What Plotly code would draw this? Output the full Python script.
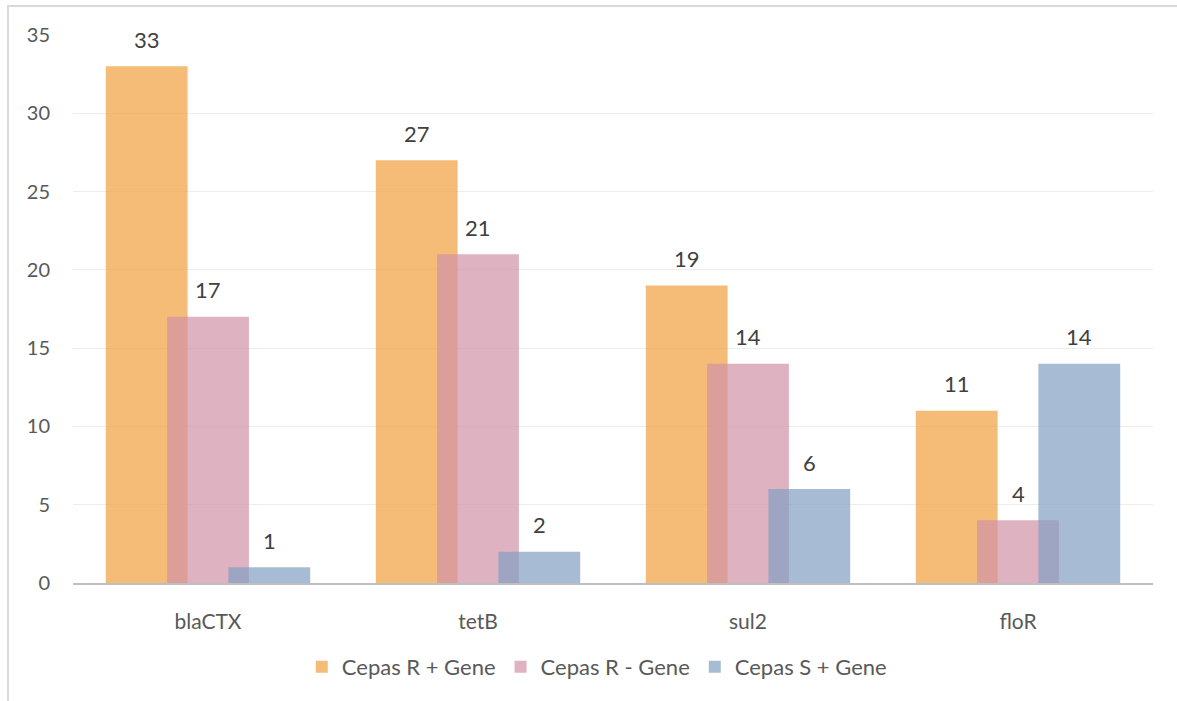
import plotly.graph_objects as go

# Data
genes = ["blaCTX", "tetB", "sul2", "floR"]
series_names = ["Cepas R + Gene", "Cepas R - Gene", "Cepas S + Gene"]
r_plus = [33, 27, 19, 11]
r_minus = [17, 21, 14, 4]
s_plus = [1, 2, 6, 14]
y_ticks = [0, 5, 10, 15, 20, 25, 30, 35]

values = [r_plus, r_minus, s_plus]
colors = ["rgba(240,160,60,0.7)", "rgba(209,145,168,0.7)", "rgba(129,159,194,0.7)"]
offsets = [-0.227, 0.0, 0.227]
bar_width = 0.303

FONT = "Lato"

fig = go.Figure()
annotations = []
for name, vals, col, off in zip(series_names, values, colors, offsets):
    xs = [i + off for i in range(len(genes))]
    fig.add_trace(go.Bar(
        x=xs, y=vals, name=name, width=bar_width,
        marker=dict(color=col, line=dict(width=0)),
        hoverinfo="y+name",
    ))
    for x, v in zip(xs, vals):
        annotations.append(dict(
            x=x, y=v, xref="x", yref="y", text=str(v), showarrow=False,
            yshift=27, font=dict(family=FONT, size=22, color="#404040"),
        ))

fig.update_layout(
    width=1177, height=701,
    margin=dict(l=73, r=24, t=35, b=118),
    paper_bgcolor="white", plot_bgcolor="white",
    barmode="overlay",
    font=dict(family=FONT, size=21, color="#595959"),
    annotations=annotations,
    showlegend=True,
    legend=dict(
        orientation="h", x=0.485, xanchor="center", y=-0.153, yanchor="middle",
        font=dict(family=FONT, size=22, color="#595959"),
        itemclick=False, traceorder="normal",
    ),
    shapes=[dict(
        type="rect", xref="paper", yref="paper",
        x0=(8 - 73) / 1080, x1=1.03, y0=-0.23, y1=(583 - 6) / 548,
        line=dict(color="#D9D9D9", width=2), layer="below",
    )],
)

fig.update_xaxes(
    range=[-0.5, len(genes) - 0.5],
    tickmode="array", tickvals=list(range(len(genes))), ticktext=genes,
    showgrid=False, zeroline=False, ticks="",
    showline=True, linecolor="#BFBFBF", linewidth=2,
    ticklabelstandoff=19,
    tickfont=dict(family=FONT, size=21, color="#595959"),
)
fig.update_yaxes(
    range=[0, 35], tickmode="array", tickvals=y_ticks,
    showgrid=True, gridcolor="#EDEDED", gridwidth=1,
    zeroline=False, showline=False, ticks="",
    ticklabelstandoff=22,
    tickfont=dict(family=FONT, size=20, color="#595959"),
)

fig.write_html("out.html")
